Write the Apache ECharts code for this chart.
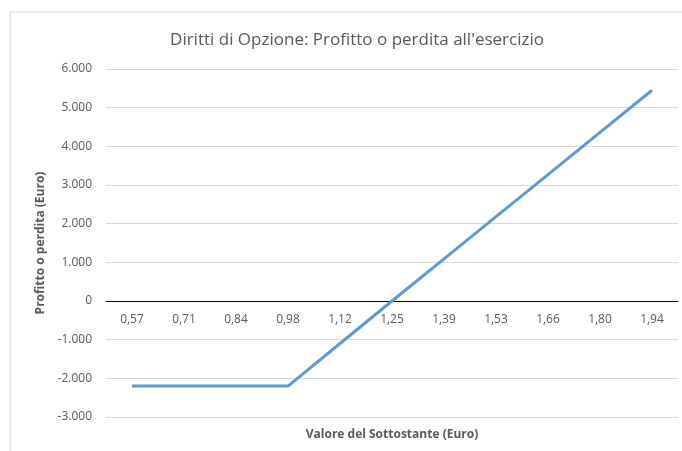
<!DOCTYPE html>
<html>
<head>
<meta charset="utf-8">
<script src="https://cdn.jsdelivr.net/npm/echarts@6/dist/echarts.min.js"></script>
<style>
  html, body { margin: 0; padding: 0; background: #fff; }
  #chart { width: 682px; height: 451px; }
</style>
</head>
<body>
<div id="chart"></div>
<script>
// valori del sottostante (categorie)
const categories = ['0,57', '0,71', '0,84', '0,98', '1,12', '1,25', '1,39', '1,53', '1,66', '1,80', '1,94'];
// profitto o perdita all'esercizio
const profitValues = [-2200, -2200, -2200, -2200, -1100, 0, 1090, 2180, 3270, 4360, 5450];
// asse y
const yMin = -3000;
const yMax = 6000;
const yStep = 1000;

const gridTop = 69;
const gridBottom = 34;
const chartHeight = 451;

// distanza (px) fra il bordo inferiore del grafico e lo zero dell'asse y
const plotH = chartHeight - gridTop - gridBottom;
const zeroOffset = plotH * (0 - yMin) / (yMax - yMin);

const chart = echarts.init(document.getElementById('chart'));

const fmt = (v) => {
  const s = Math.abs(v).toString().replace(/\B(?=(\d{3})+(?!\d))/g, '.');
  return (v < 0 ? '-' : '') + s;
};

chart.setOption({
  animation: false,
  textStyle: { fontFamily: 'Open Sans, Liberation Sans, sans-serif' },
  title: {
    text: "Diritti di Opzione: Profitto o perdita all'esercizio",
    left: 352,
    top: 27,
    textAlign: 'center',
    textStyle: { fontSize: 17, fontWeight: 'normal', color: '#595959', fontFamily: 'Open Sans' }
  },
  graphic: [
    {
      type: 'rect',
      shape: { x: 10, y: 12, width: 700, height: 460 },
      style: { fill: 'none', stroke: '#d9d9d9', lineWidth: 1 },
      silent: true
    }
  ],
  grid: { left: 106, right: 4, top: gridTop, bottom: gridBottom },
  xAxis: [
    {
      // asse con etichette sulla linea dello zero
      type: 'category',
      data: categories,
      boundaryGap: true,
      position: 'bottom',
      offset: -zeroOffset,
      axisLine: { onZero: false, lineStyle: { color: '#000', width: 1 } },
      axisTick: { show: false },
      axisLabel: { color: '#595959', fontSize: 12, margin: 13 },
      splitLine: { show: false }
    },
    {
      // solo per il titolo dell'asse x, in basso
      type: 'category',
      data: categories,
      position: 'bottom',
      name: 'Valore del Sottostante (Euro)',
      nameLocation: 'middle',
      nameGap: 12,
      nameTextStyle: { fontSize: 12, fontWeight: 'bold', color: '#595959' },
      axisLine: { show: false, onZero: false },
      axisTick: { show: false },
      axisLabel: { show: false },
      splitLine: { show: false }
    }
  ],
  yAxis: {
    type: 'value',
    min: yMin,
    max: yMax,
    interval: yStep,
    name: 'Profitto o perdita (Euro)',
    nameLocation: 'middle',
    nameGap: 49,
    nameTextStyle: { fontSize: 12, fontWeight: 'bold', color: '#595959' },
    axisLine: { show: false },
    axisTick: { show: false },
    axisLabel: { color: '#595959', fontSize: 12, margin: 14, formatter: fmt },
    splitLine: { lineStyle: { color: '#d9d9d9', width: 1 } }
  },
  series: [
    {
      type: 'line',
      xAxisIndex: 0,
      data: profitValues,
      symbol: 'none',
      lineStyle: { color: '#5b9bd5', width: 3 },
      itemStyle: { color: '#5b9bd5' },
      z: 3
    }
  ]
});
</script>
</body>
</html>
